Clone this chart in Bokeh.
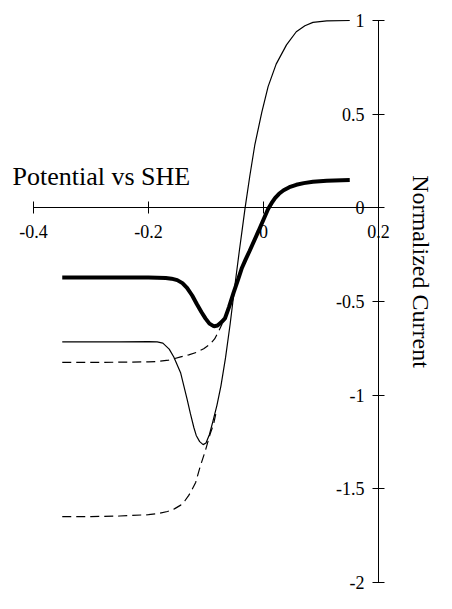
import math
from bokeh.plotting import figure
from bokeh.models import LinearAxis, FixedTicker, Label, Range1d
from bokeh.embed import file_html
from bokeh.resources import INLINE

# ---- data ----
x_ticks = [-0.4, -0.2, 0, 0.2]
x_tick_labels = ["-0.4", "-0.2", "0", "0.2"]
y_ticks = [-2, -1.5, -1, -0.5, 0, 0.5, 1]
y_tick_labels = ["-2", "-1.5", "-1", "-0.5", "0", "0.5", "1"]

thin_x = [-0.35, -0.30, -0.25, -0.20, -0.185, -0.175, -0.164, -0.156, -0.144, -0.133,
          -0.127, -0.121, -0.117, -0.111, -0.105, -0.100, -0.094, -0.088, -0.081, -0.074,
          -0.066, -0.058, -0.050, -0.042, -0.037, -0.032, -0.024, -0.015, -0.003, 0.008,
          0.022, 0.040, 0.057, 0.072, 0.086, 0.110, 0.150]
thin_y = [-0.715, -0.715, -0.715, -0.714, -0.716, -0.722, -0.754, -0.796, -0.882, -1.020,
          -1.100, -1.174, -1.215, -1.248, -1.264, -1.255, -1.210, -1.140, -1.054, -0.950,
          -0.800, -0.620, -0.420, -0.229, -0.115, 0.000, 0.166, 0.338, 0.509, 0.647,
          0.767, 0.870, 0.940, 0.972, 0.990, 0.998, 1.000]

thick_x = [-0.35, -0.30, -0.25, -0.20, -0.17, -0.160, -0.150, -0.141, -0.133, -0.124,
           -0.116, -0.108, -0.101, -0.094, -0.086, -0.080, -0.073, -0.067, -0.060, -0.052,
           -0.045, -0.038, -0.031, -0.024, -0.009, 0.008, 0.014, 0.020, 0.027, 0.035,
           0.045, 0.057, 0.070, 0.086, 0.110, 0.150]
thick_y = [-0.372, -0.372, -0.372, -0.372, -0.374, -0.378, -0.386, -0.402, -0.427, -0.468,
           -0.513, -0.556, -0.590, -0.618, -0.633, -0.628, -0.610, -0.590, -0.530, -0.453,
           -0.390, -0.324, -0.275, -0.229, -0.126, -0.006, 0.025, 0.052, 0.075, 0.094,
           0.110, 0.123, 0.132, 0.139, 0.145, 0.148]

dash_up_x = [-0.35, -0.30, -0.25, -0.20, -0.184, -0.165, -0.144, -0.130, -0.116, -0.104,
             -0.093, -0.085, -0.078, -0.072]
dash_up_y = [-0.825, -0.825, -0.824, -0.822, -0.820, -0.813, -0.796, -0.785, -0.771, -0.752,
             -0.728, -0.700, -0.659, -0.620]

dash_lo_x = [-0.35, -0.30, -0.25, -0.20, -0.183, -0.167, -0.155, -0.144, -0.137, -0.130,
             -0.124, -0.118, -0.110, -0.101, -0.093, -0.087, -0.083]
dash_lo_y = [-1.648, -1.648, -1.645, -1.638, -1.632, -1.621, -1.607, -1.587, -1.565, -1.535,
             -1.502, -1.466, -1.380, -1.295, -1.209, -1.157, -1.100]

x_title = "Potential vs SHE"
y_title = "Normalized Current"

FONT = "Liberation Serif"

p = figure(width=436, height=593, output_backend="svg", toolbar_location=None,
           x_axis_type=None, y_axis_type=None,
           x_range=Range1d(-263 / 575, 173 / 575), y_range=Range1d(-2.05872, 1.10676),
           min_border=0, outline_line_color=None, background_fill_color="white",
           border_fill_color="white")

# curves
p.line(dash_up_x, dash_up_y, line_color="black", line_width=1.2, line_dash="9 5")
p.line(dash_lo_x, dash_lo_y, line_color="black", line_width=1.2, line_dash="9 5")
p.line(thin_x, thin_y, line_color="black", line_width=1.2)
p.line(thick_x, thick_y, line_color="black", line_width=4)

# x axis crossing at y = 0
xa = LinearAxis(fixed_location=0, bounds=(-0.4, 0.209))
xa.ticker = FixedTicker(ticks=x_ticks, minor_ticks=[])
xa.major_label_overrides = {t: l for t, l in zip(x_ticks, x_tick_labels)}
xa.major_tick_in = 6
xa.major_tick_out = 6
xa.minor_tick_in = 0
xa.minor_tick_out = 0
xa.major_label_standoff = 11
xa.major_label_text_font = FONT
xa.major_label_text_font_size = "18px"
xa.major_label_text_color = "black"
xa.axis_line_color = "black"
xa.major_tick_line_color = "black"
p.add_layout(xa, "below")

# y axis at x = 0.2
ya = LinearAxis(fixed_location=0.2, bounds=(-2, 1))
ya.ticker = FixedTicker(ticks=y_ticks, minor_ticks=[])
ya.major_label_overrides = {t: l for t, l in zip(y_ticks, y_tick_labels)}
ya.major_tick_in = 6
ya.major_tick_out = 6
ya.minor_tick_in = 0
ya.minor_tick_out = 0
ya.major_label_standoff = 8
ya.major_label_text_font = FONT
ya.major_label_text_font_size = "18px"
ya.major_label_text_color = "black"
ya.axis_line_color = "black"
ya.major_tick_line_color = "black"
p.add_layout(ya, "left")

p.add_layout(Label(x=-0.43652, y=0.1656, text=x_title, text_font=FONT,
                   text_font_size="26px", text_color="black",
                   text_baseline="alphabetic", text_align="left"))
p.add_layout(Label(x=0.27478, y=-0.34, text=y_title, text_font=FONT,
                   text_font_size="24px", text_color="black", angle=-math.pi / 2,
                   text_baseline="middle", text_align="center"))

open("out.html", "w").write(file_html(p, INLINE))
